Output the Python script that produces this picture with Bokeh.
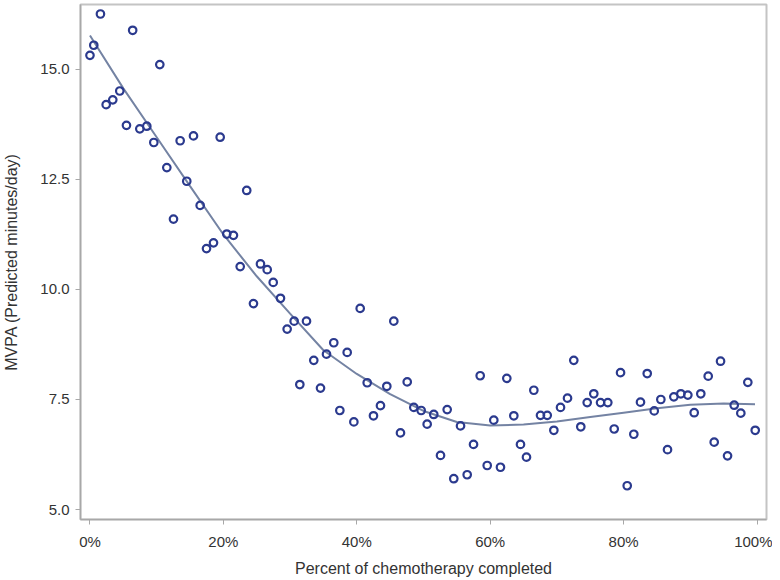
from bokeh.plotting import figure
from bokeh.models import FixedTicker, Range1d, ColumnDataSource
from bokeh.embed import file_html
from bokeh.resources import INLINE

# ---- data ----
pct_completed = [0.0, 0.57, 1.57, 2.43, 3.42, 4.47, 5.47, 6.4, 7.47, 8.52, 9.57, 10.47,
                 11.52, 12.52, 13.52, 14.51, 15.52, 16.52, 17.47, 18.52, 19.52, 20.51,
                 21.51, 22.52, 23.5, 24.51, 25.56, 26.57, 27.47, 28.56, 29.56, 30.61,
                 31.46, 32.46, 33.55, 34.56, 35.46, 36.55, 37.46, 38.56, 39.56, 40.51,
                 41.56, 42.5, 43.55, 44.5, 45.55, 46.55, 47.56, 48.55, 49.65, 50.55,
                 51.54, 52.55, 53.55, 54.54, 55.55, 56.55, 57.5, 58.5, 59.55, 60.54,
                 61.54, 62.49, 63.54, 64.54, 65.44, 66.54, 67.54, 68.55, 69.54, 70.54,
                 71.59, 72.53, 73.58, 74.54, 75.53, 76.54, 77.63, 78.59, 79.54, 80.54,
                 81.53, 82.53, 83.54, 84.59, 85.58, 86.58, 87.53, 88.58, 89.63, 90.58,
                 91.57, 92.68, 93.58, 94.53, 95.58, 96.58, 97.57, 98.62, 99.73]
mvpa = [15.32, 15.55, 16.26, 14.20, 14.31, 14.51, 13.73, 15.89, 13.65, 13.71, 13.34, 15.11,
        12.77, 11.60, 13.38, 12.46, 13.49, 11.91, 10.93, 11.06, 13.46, 11.26,
        11.23, 10.52, 12.25, 9.68, 10.58, 10.45, 10.16, 9.80, 9.10, 9.28,
        7.84, 9.28, 8.39, 7.76, 8.53, 8.79, 7.25, 8.57, 6.99, 9.57,
        7.88, 7.13, 7.36, 7.80, 9.28, 6.74, 7.90, 7.32, 7.25, 6.94,
        7.16, 6.23, 7.27, 5.70, 6.90, 5.79, 6.48, 8.04, 6.00, 7.03,
        5.96, 7.98, 7.13, 6.48, 6.19, 7.71, 7.14, 7.14, 6.80, 7.32,
        7.53, 8.39, 6.88, 7.43, 7.63, 7.43, 7.43, 6.83, 8.11, 5.54,
        6.71, 7.44, 8.09, 7.24, 7.50, 6.36, 7.56, 7.63, 7.60, 7.20,
        7.63, 8.03, 6.53, 8.37, 6.22, 7.37, 7.19, 7.89, 6.80]

# smoothed (loess) fit curve
fit_x = [0, 5, 10, 15, 20, 25, 30, 35, 40, 45, 50, 55, 60, 65, 70, 75, 80, 85, 90, 95, 99.7]
fit_y = [15.77, 14.57, 13.46, 12.35, 11.25, 10.3, 9.45, 8.62, 8.08, 7.62, 7.24, 6.99,
         6.91, 6.93, 7.0, 7.1, 7.2, 7.3, 7.38, 7.41, 7.39]

x_ticks = [0, 20, 40, 60, 80, 100]
x_tick_labels = ["0%", "20%", "40%", "60%", "80%", "100%"]
y_ticks = [5.0, 7.5, 10.0, 12.5, 15.0]
y_tick_labels = ["5.0", "7.5", "10.0", "12.5", "15.0"]

x_title = "Percent of chemotherapy completed"
y_title = "MVPA (Predicted minutes/day)"

FONT = "Liberation Sans"
MARKER = "#2b3a8e"
FIT = "#7483a3"
FRAME = "#c4c4c4"
TEXT = "#333333"

p = figure(width=772, height=579, output_backend="svg", toolbar_location=None,
           x_range=Range1d(-1.42, 101.42), y_range=Range1d(4.773, 16.476),
           min_border_left=80, min_border_right=6, min_border_top=4, min_border_bottom=60)
p.background_fill_color = "white"
p.border_fill_color = "white"
p.outline_line_color = FRAME
p.outline_line_width = 2
p.xgrid.visible = False
p.ygrid.visible = False

p.line(fit_x, fit_y, line_color=FIT, line_width=2)
src = ColumnDataSource(dict(x=pct_completed, y=mvpa))
p.scatter("x", "y", source=src, marker="circle", size=7.5, fill_color=None,
          line_color=MARKER, line_width=2.2)

for ax, ticks, labels in ((p.xaxis[0], x_ticks, x_tick_labels), (p.yaxis[0], y_ticks, y_tick_labels)):
    ax.ticker = FixedTicker(ticks=ticks)
    ax.major_label_overrides = {t: l for t, l in zip(ticks, labels)}
    ax.minor_tick_line_color = None
    ax.major_tick_in = 0
    ax.major_tick_out = 5
    ax.major_tick_line_color = "#a8a8a8"
    ax.axis_line_color = "#a8a8a8"
    ax.axis_line_width = 1.5
    ax.major_label_text_font = FONT
    ax.major_label_text_font_size = "15px"
    ax.major_label_text_color = TEXT
    ax.axis_label_text_font = FONT
    ax.axis_label_text_font_size = "16px"
    ax.axis_label_text_font_style = "normal"
    ax.axis_label_text_color = TEXT

p.xaxis.axis_label = x_title
p.yaxis.axis_label = y_title
p.xaxis.major_label_standoff = 8
p.xaxis.axis_label_standoff = 7
p.yaxis.major_label_standoff = 6
p.yaxis.axis_label_standoff = 17

open("out.html", "w").write(file_html(p, INLINE))
